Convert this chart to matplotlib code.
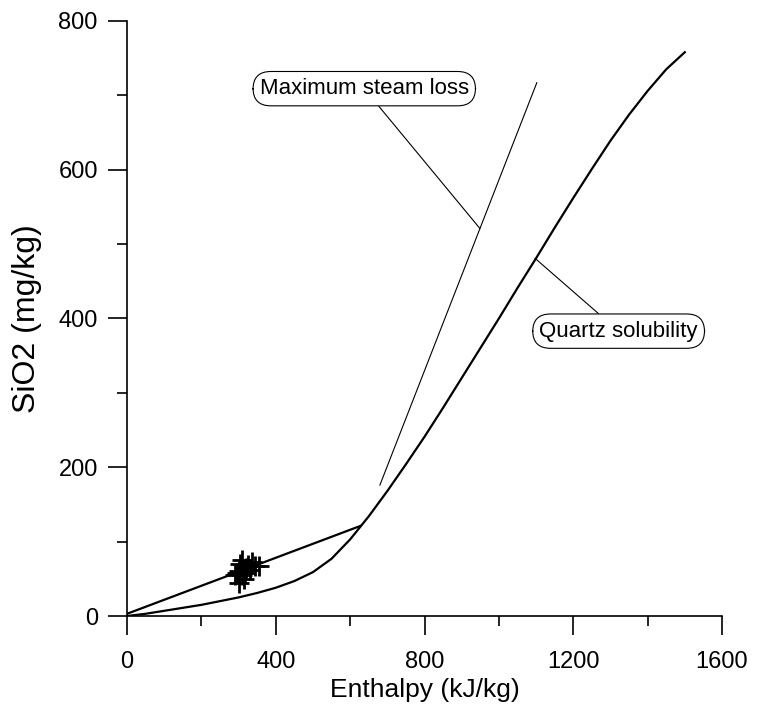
import matplotlib.pyplot as plt
import numpy as np

plt.rcParams['font.family'] = ['Liberation Sans', 'DejaVu Sans']

# quartz solubility curve (enthalpy kJ/kg, SiO2 mg/kg)
quartzH = [0, 50, 100, 150, 200, 250, 300, 350, 400, 450, 500, 550, 600, 650, 700,
           750, 800, 850, 900, 950, 1000, 1050, 1100, 1150, 1200, 1250, 1300, 1350,
           1400, 1450, 1500]
quartzS = [0, 3, 7, 11, 15, 20, 25, 31, 38, 47, 59, 77, 103, 134, 168,
           204, 241, 280, 320, 360, 400, 441, 481, 522, 562, 601, 639, 674,
           706, 735, 758]

# mixing line from zero to the junction with the quartz curve
mixH = [0, 627]
mixS = [3, 121]

# maximum steam loss line
steamH = [680, 1102]
steamS = [176, 717]

# samples
sampleH = [300, 310, 320, 305, 315, 330, 295, 325, 345, 310, 300, 318, 290, 335, 355]
sampleS = [60, 55, 65, 70, 50, 62, 58, 68, 67, 75, 45, 58, 55, 72, 67]

fig = plt.figure(figsize=(7.62, 7.11), dpi=100)
ax = fig.add_axes([0.1667, 0.1336, 0.7808, 0.8369])

ax.plot(quartzH, quartzS, color='black', lw=1.6)
ax.plot(mixH, mixS, color='black', lw=1.6)
ax.plot(steamH, steamS, color='black', lw=0.8)
ax.plot(sampleH, sampleS, '+', color='black', ms=15, mew=2)

box = dict(boxstyle='round,pad=0.3,rounding_size=0.8', fc='white', ec='black', lw=0.8)
ax.annotate('Maximum steam loss', xy=(949, 521), xytext=(638, 709),
            fontsize=16, ha='center', va='center', bbox=box,
            arrowprops=dict(arrowstyle='-', color='black', lw=0.8, shrinkA=0, shrinkB=0))
ax.annotate('Quartz solubility', xy=(1097, 481), xytext=(1322, 383),
            fontsize=16, ha='center', va='center', bbox=box,
            arrowprops=dict(arrowstyle='-', color='black', lw=0.8, shrinkA=0, shrinkB=0))

ax.set_xlim(0, 1600)
ax.set_ylim(0, 800)
ax.set_xticks([0, 400, 800, 1200, 1600])
ax.set_xticks(np.arange(0, 1601, 200), minor=True)
ax.set_yticks([0, 200, 400, 600, 800])
ax.set_yticks(np.arange(0, 801, 100), minor=True)

ax.spines['top'].set_visible(False)
ax.spines['right'].set_visible(False)
ax.spines['left'].set_linewidth(1.2)
ax.spines['bottom'].set_linewidth(1.2)
ax.tick_params(which='major', direction='out', length=14, width=1.2, labelsize=17, pad=7)
ax.tick_params(axis='x', which='major', pad=11)
ax.tick_params(which='minor', direction='out', length=7, width=1.2)

ax.set_xlabel('Enthalpy (kJ/kg)', fontsize=19, labelpad=4)
ax.set_ylabel('SiO2 (mg/kg)', fontsize=23, labelpad=12)

fig.savefig('out.png', dpi=100)
